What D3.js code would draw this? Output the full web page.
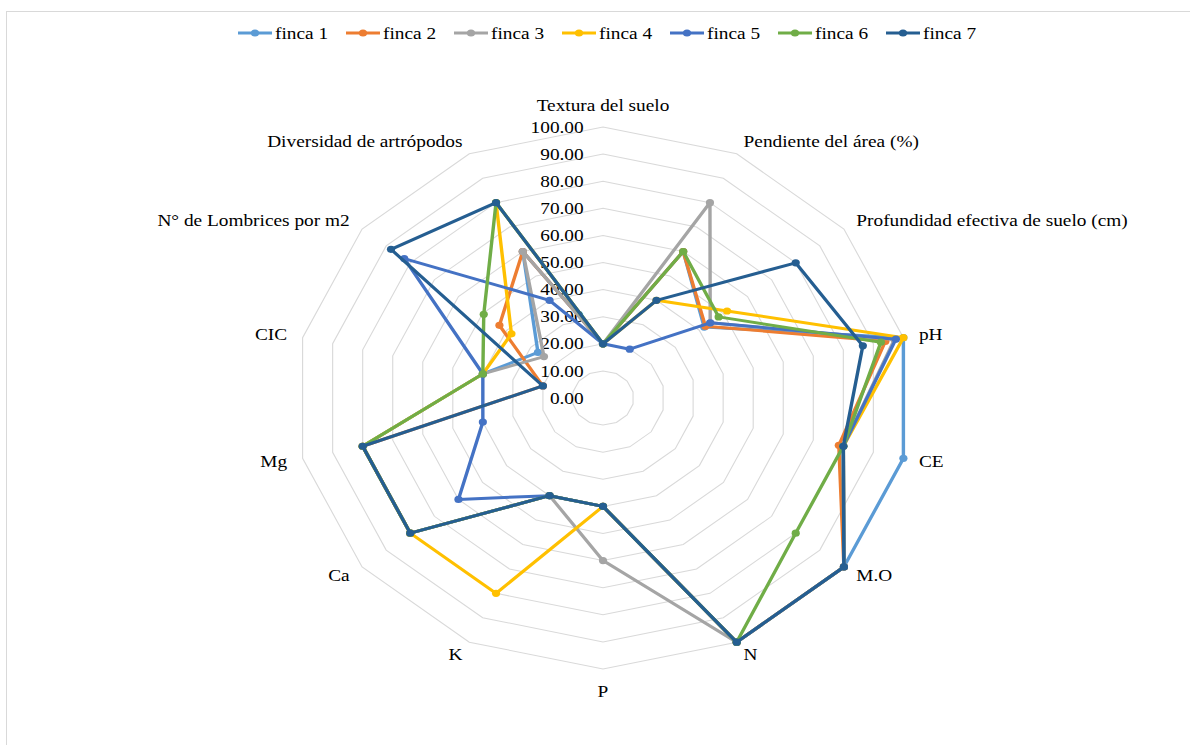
<!DOCTYPE html>
<html><head><meta charset="utf-8">
<script src="https://cdn.jsdelivr.net/npm/d3@7/dist/d3.min.js"></script>
<style>body{margin:0;background:#fff}svg{display:block}
svg text{font-family:"Liberation Serif","Tinos","Times New Roman","DejaVu Serif",serif;}</style>
</head><body>
<svg id="c" width="1190" height="745"></svg>
<script>
const categories = ["Textura del suelo","Pendiente del área (%)","Profundidad efectiva de suelo (cm)","pH","CE","M.O","N","P","K","Ca","Mg","CIC","N° de Lombrices por m2","Diversidad de artrópodos"];
const seriesNames = ["finca 1","finca 2","finca 3","finca 4","finca 5","finca 6","finca 7"];
const finca1 = [20, 60, 42, 100, 100, 100, 100, 40, 40, 80, 80, 40, 27, 60];
const finca2 = [20, 60, 42.5, 94, 78.5, 100, 100, 40, 40, 80, 80, 20, 43, 60];
const finca3 = [20, 80, 44.5, 97, 80, 100, 100, 60, 40, 80, 80, 40, 24.5, 60];
const finca4 = [20, 40, 51.5, 100, 80, 100, 100, 40, 80, 80, 80, 40, 38, 80];
const finca5 = [20, 20, 44.5, 97.5, 80, 100, 100, 40, 40, 60, 40, 40, 82.5, 40];
const finca6 = [20, 60, 48, 92.5, 80, 80, 100, 40, 40, 80, 80, 40, 49.5, 80];
const finca7 = [20, 40, 80, 86.5, 80, 100, 100, 40, 40, 80, 80, 20, 88, 80];
const ringTicks = [0,10,20,30,40,50,60,70,80,90,100];
const colors = ["#5B9BD5","#ED7D31","#A5A5A5","#FFC000","#4472C4","#70AD47","#255E91"];

const seriesData = [finca1,finca2,finca3,finca4,finca5,finca6,finca7];
const FS = 17;

const svg = d3.select("#c");
svg.append("rect").attr("x",0).attr("y",0).attr("width",1190).attr("height",745).attr("fill","#fff");
svg.append("rect").attr("x",6.5).attr("y",11.5).attr("width",1400).attr("height",900)
  .attr("fill","#fff").attr("stroke","#d9d9d9").attr("stroke-width",1);

const SX = 1.137;
const g = svg.append("g").attr("transform", `scale(${SX},1)`);
const cx = 603/SX, cy = 398, R = 271;
const r = d3.scaleLinear().domain([0,100]).range([0,R]);
const ang = d3.scaleLinear().domain([0,categories.length]).range([0, 2*Math.PI]);
const plot = g.append("g").attr("transform", `translate(${cx},${cy})`);

// gridline rings
ringTicks.slice(1).forEach(t => {
  plot.append("path")
    .attr("d", d3.lineRadial().angle((d,i)=>ang(i)).radius(()=>r(t)).curve(d3.curveLinearClosed)(categories))
    .attr("fill","none").attr("stroke","#d9d9d9").attr("stroke-width",1);
});

// radial tick labels
plot.selectAll("text.tick").data(ringTicks).join("text")
  .attr("class","tick")
  .attr("x",-17).attr("y", d => -r(d))
  .attr("text-anchor","end").attr("dominant-baseline","central")
  .attr("font-size",FS).attr("fill","#000")
  .text(d3.format(".2f"));

// category labels
plot.selectAll("text.cat").data(categories).join("text")
  .attr("class","cat")
  .each(function(d,i){
    const a = ang(i), s = Math.sin(a), c = Math.cos(a);
    let rr = R + 14;
    let x = rr*s, y = -rr*c;
    let anchor = "middle";
    if (Math.abs(s) < 0.1) { y = -(rr+8)*c; }
    else anchor = s > 0 ? "start" : "end";
    d3.select(this).attr("x",x).attr("y",y).attr("text-anchor",anchor);
  })
  .attr("dominant-baseline","central")
  .attr("font-size",FS).attr("fill","#000")
  .text(d=>d);

// series
const px = (v,i) => r(v)*Math.sin(ang(i));
const py = (v,i) => -r(v)*Math.cos(ang(i));
const radial = d3.lineRadial().angle((d,i)=>ang(i)).radius(d=>r(d)).curve(d3.curveLinearClosed);
seriesData.forEach((vals,k) => {
  const sg = plot.append("g");
  sg.append("path").attr("d", radial(vals)).attr("fill","none")
    .attr("stroke",colors[k]).attr("stroke-width",3).attr("stroke-linejoin","round");
  sg.selectAll("circle").data(vals).join("circle")
    .attr("cx",(d,i)=>px(d,i)).attr("cy",(d,i)=>py(d,i)).attr("r",3.6)
    .attr("fill",colors[k]);
});

// legend
const leg = g.append("g");
seriesNames.forEach((name,k) => {
  const x0 = (238 + k*108)/SX, y0 = 33;
  const L = 34/SX;
  leg.append("line").attr("x1",x0).attr("x2",x0+L).attr("y1",y0).attr("y2",y0)
    .attr("stroke",colors[k]).attr("stroke-width",3);
  leg.append("circle").attr("cx",x0+L/2).attr("cy",y0).attr("r",3.6).attr("fill",colors[k]);
  leg.append("text").attr("x",x0+L+3/SX).attr("y",y0).attr("dominant-baseline","central")
    .attr("font-size",FS).attr("fill","#000").text(name);
});
</script>
</body></html>
